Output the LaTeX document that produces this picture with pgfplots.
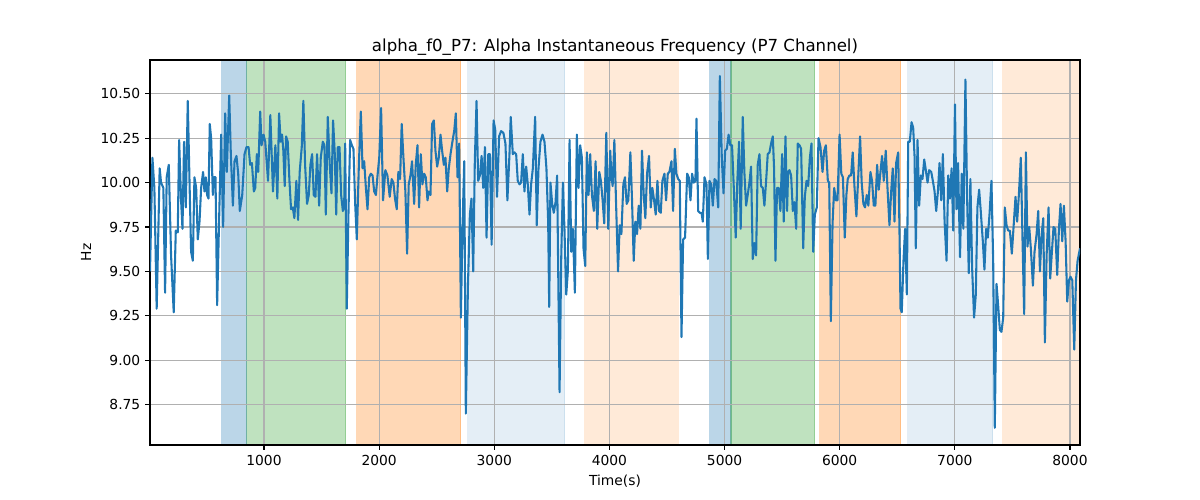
\documentclass[border=0pt]{standalone}
\usepackage{pgfplots}
\pgfplotsset{compat=1.18}
\usepackage{pgfplotstable}
\usepackage{fontspec}
\setmainfont{DejaVu Sans}
\definecolor{tabblue}{HTML}{1F77B4}
\definecolor{taborange}{HTML}{FF7F0E}
\definecolor{tabgreen}{HTML}{2CA02C}
\definecolor{gridgray}{HTML}{B0B0B0}
\pgfplotstableread{
t v
10 9.50
31 10.14
48 9.97
68 9.29
94 10.08
106 10.00
126 9.97
141 9.38
155 10.03
173 10.10
193 9.59
216 9.27
234 9.73
251 9.72
263 10.24
280 9.90
292 9.74
306 10.23
321 9.86
338 10.46
353 10.01
367 9.61
382 9.56
396 10.03
411 9.97
425 9.68
440 9.78
454 9.97
471 10.06
483 9.95
495 10.03
506 9.93
518 9.91
529 10.33
541 10.25
556 9.93
564 10.03
579 10.03
593 9.31
608 9.73
628 10.27
645 9.75
663 10.39
677 10.06
698 10.49
712 10.16
730 9.87
744 10.12
761 10.15
776 10.05
790 9.84
811 9.93
831 10.16
848 10.20
866 10.20
880 10.10
895 10.11
912 9.95
924 9.97
938 10.16
950 10.06
967 10.40
979 10.21
996 10.27
1011 10.23
1035 10.01
1055 10.38
1078 9.95
1099 10.21
1116 9.91
1131 10.39
1145 10.23
1157 10.27
1168 10.18
1180 9.98
1192 10.26
1206 10.23
1221 10.01
1235 9.85
1250 9.86
1264 9.80
1281 10.01
1296 9.79
1310 10.06
1328 10.20
1342 10.46
1357 10.10
1374 9.88
1389 9.93
1403 10.10
1418 10.16
1432 9.93
1447 9.92
1461 10.16
1479 9.87
1493 10.14
1511 10.23
1525 10.21
1537 9.82
1554 10.37
1571 10.10
1586 9.94
1600 10.35
1615 10.16
1627 9.82
1641 10.20
1656 10.20
1670 9.93
1685 9.84
1696 9.86
1705 10.22
1719 9.29
1734 9.84
1748 10.24
1763 10.21
1777 10.19
1792 9.88
1806 9.68
1824 10.10
1841 10.40
1856 10.08
1870 10.12
1885 9.97
1899 9.85
1914 10.03
1928 10.05
1943 10.04
1957 9.95
1972 9.93
1986 10.04
2001 10.14
2017 10.42
2034 9.90
2054 10.07
2072 10.04
2092 9.92
2109 10.02
2124 10.00
2138 9.91
2153 9.85
2167 10.06
2182 10.02
2196 10.33
2211 10.14
2228 9.95
2243 9.60
2257 9.99
2272 10.04
2286 10.12
2304 9.88
2318 10.10
2333 10.21
2347 9.86
2362 10.16
2376 9.99
2391 10.05
2405 10.03
2420 9.90
2431 9.95
2446 9.93
2460 10.33
2475 10.35
2489 10.18
2504 10.09
2518 10.14
2533 10.27
2547 10.18
2562 10.10
2576 10.14
2591 9.95
2605 10.08
2620 10.16
2634 10.22
2652 10.29
2666 10.39
2681 10.03
2695 10.22
2710 9.24
2724 9.74
2739 10.12
2753 8.70
2771 9.41
2788 9.82
2802 9.91
2817 9.50
2831 10.12
2846 10.46
2860 10.01
2875 10.04
2890 10.15
2904 9.97
2919 10.20
2933 9.69
2948 10.16
2962 10.16
2977 9.65
2994 10.35
3008 10.30
3024 9.92
3042 10.26
3059 10.29
3079 10.28
3097 10.22
3114 9.90
3132 10.16
3143 10.37
3161 10.16
3175 10.17
3190 10.16
3204 10.01
3219 9.99
3233 10.00
3248 10.16
3262 9.95
3277 10.09
3291 9.99
3306 9.82
3320 9.99
3335 10.08
3355 10.37
3369 9.76
3384 10.08
3401 10.23
3419 10.27
3436 10.23
3453 10.08
3468 9.78
3477 9.30
3488 10.00
3503 9.88
3517 9.83
3532 9.89
3546 10.04
3567 8.82
3581 9.56
3596 10.00
3610 9.73
3625 9.37
3639 9.50
3654 10.24
3668 9.61
3683 9.74
3700 9.38
3717 10.27
3732 9.97
3746 10.21
3761 10.14
3775 9.63
3790 9.53
3804 10.17
3819 9.93
3833 10.16
3848 9.93
3865 9.84
3880 10.12
3894 9.74
3912 10.06
3926 10.01
3941 9.90
3955 9.77
3973 10.28
3990 9.74
4007 10.18
4017 10.04
4028 9.98
4043 10.24
4057 9.90
4075 9.50
4089 9.76
4104 9.71
4121 9.99
4135 10.03
4150 9.88
4164 9.90
4182 10.17
4196 9.91
4211 9.56
4225 9.78
4240 9.71
4254 9.87
4269 9.74
4283 10.18
4298 9.93
4312 9.80
4327 10.05
4344 10.15
4359 9.86
4373 9.97
4388 9.90
4402 9.82
4417 10.01
4431 9.84
4446 9.83
4460 10.01
4478 10.05
4492 9.90
4507 10.05
4521 10.06
4539 10.12
4553 9.84
4568 10.19
4582 10.05
4597 10.02
4611 10.01
4626 9.13
4640 9.68
4657 9.69
4675 10.05
4689 10.03
4704 9.90
4718 10.05
4733 10.00
4747 10.01
4756 10.36
4771 9.84
4785 9.83
4800 9.83
4811 9.78
4826 10.03
4843 9.99
4855 9.57
4869 10.01
4884 9.99
4898 9.87
4913 10.02
4927 10.01
4945 9.86
4959 10.60
4976 10.14
4991 9.94
5005 10.18
5020 10.19
5035 10.27
5050 10.21
5065 10.21
5079 9.99
5097 9.69
5111 10.01
5126 10.23
5140 9.74
5158 10.37
5172 10.06
5187 9.87
5201 9.93
5216 10.00
5230 10.09
5245 9.57
5259 9.66
5274 9.59
5288 10.10
5303 10.16
5317 9.98
5332 9.97
5346 9.87
5361 10.01
5375 10.16
5390 10.17
5404 10.22
5419 10.26
5430 10.08
5442 9.56
5456 9.97
5471 9.97
5485 9.84
5500 10.16
5514 9.78
5529 10.26
5543 9.84
5552 10.06
5564 10.07
5578 10.04
5593 9.84
5607 9.89
5622 9.74
5636 10.22
5651 10.21
5665 10.19
5683 9.63
5697 9.92
5712 10.01
5726 9.98
5741 10.14
5755 10.22
5770 9.61
5784 9.82
5801 9.86
5816 10.25
5833 10.20
5851 10.06
5865 10.18
5880 10.21
5897 10.01
5909 10.00
5923 9.22
5938 9.77
5952 9.97
5967 9.90
5981 9.90
5999 10.27
6014 10.05
6028 10.03
6044 9.69
6058 9.93
6070 10.02
6084 10.04
6099 10.04
6113 10.17
6128 9.98
6145 9.81
6160 10.02
6177 10.26
6191 10.00
6206 9.88
6220 9.86
6235 9.93
6249 9.87
6267 10.06
6281 10.01
6296 9.87
6310 9.87
6325 10.10
6339 9.96
6354 10.06
6368 10.15
6383 10.01
6400 10.18
6415 9.97
6432 9.76
6447 9.95
6461 10.08
6476 9.78
6490 10.11
6508 10.17
6519 9.74
6528 9.29
6539 9.27
6554 9.56
6568 9.74
6583 9.37
6595 10.23
6609 10.23
6624 10.34
6638 10.31
6650 10.15
6661 9.63
6676 10.24
6690 9.87
6705 10.04
6719 10.02
6734 10.13
6748 10.07
6763 10.00
6777 10.07
6795 10.06
6809 10.01
6824 9.95
6838 9.84
6853 9.95
6867 10.11
6882 9.90
6896 10.16
6911 9.78
6928 9.56
6943 10.04
6957 9.91
6972 10.08
6986 9.73
7001 10.44
7014 9.85
7028 10.11
7045 9.58
7060 10.05
7074 9.74
7092 10.58
7106 9.93
7121 9.49
7135 10.02
7150 9.52
7167 9.24
7182 9.37
7196 9.86
7211 9.96
7225 9.84
7243 9.67
7257 9.51
7272 9.74
7286 9.69
7301 9.82
7318 10.01
7333 9.56
7347 8.62
7362 9.43
7376 9.31
7391 9.17
7405 9.16
7420 9.24
7434 9.86
7449 9.76
7463 9.73
7478 9.73
7495 9.60
7509 9.74
7527 9.92
7541 9.78
7556 9.93
7573 10.14
7588 9.67
7602 9.26
7617 10.17
7631 9.64
7646 9.75
7660 9.63
7678 9.42
7692 9.61
7710 9.71
7724 9.84
7739 9.50
7753 9.70
7768 9.80
7782 9.10
7797 9.59
7814 9.86
7828 9.46
7843 9.61
7857 9.75
7872 9.74
7889 9.48
7904 9.74
7918 9.88
7933 9.67
7947 9.87
7962 9.67
7976 9.33
7991 9.45
8005 9.47
8020 9.45
8037 9.06
8052 9.45
8066 9.56
8087 9.63
}\alphadata
\begin{document}
\begin{tikzpicture}
\path (0,0) rectangle (12in,5in);
\begin{axis}[
  set layers,
  at={(1.5in,0.55in)}, anchor=south west,
  scale only axis, width=9.3in, height=3.85in,
  xmin=10, xmax=8087, ymin=8.523, ymax=10.69,
  xtick={1000,2000,3000,4000,5000,6000,7000,8000},
  ytick={8.75,9.00,9.25,9.50,9.75,10.00,10.25,10.50},
  grid=major,
  major grid style={color=gridgray, line width=0.8pt},
  axis line style={line width=0.8pt},
  tick align=outside, major tick length=3.5pt,
  tick style={line width=0.8pt, black},
  xtick pos=left, ytick pos=left,
  ticklabel style={font=\fontsize{10}{12}\selectfont},
  /pgf/number format/assume math mode=true,
  x tick label style={/pgf/number format/1000 sep={}},
  y tick label style={/pgf/number format/.cd, fixed, fixed zerofill, precision=2},
  xlabel={Time(s)}, ylabel={Hz},
  label style={font=\fontsize{10}{12}\selectfont},
  title={alpha\_f0\_P7: Alpha Instantaneous Frequency (P7 Channel)},
  title style={font=\fontsize{12}{14}\selectfont, yshift=-6.5pt},
]
\addplot[on layer=axis background, opacity=0.3, line width=0.8pt, fill=tabblue, draw=tabblue] coordinates {(633,8.523) (633,10.69) (850,10.69) (850,8.523)} -- cycle;
\addplot[on layer=axis background, opacity=0.3, line width=0.8pt, fill=tabgreen, draw=tabgreen] coordinates {(850,8.523) (850,10.69) (1710,10.69) (1710,8.523)} -- cycle;
\addplot[on layer=axis background, opacity=0.3, line width=0.8pt, fill=taborange, draw=taborange] coordinates {(1805,8.523) (1805,10.69) (2708,10.69) (2708,8.523)} -- cycle;
\addplot[on layer=axis background, opacity=0.12, line width=0.8pt, fill=tabblue, draw=tabblue] coordinates {(2769,8.523) (2769,10.69) (3611,10.69) (3611,8.523)} -- cycle;
\addplot[on layer=axis background, opacity=0.16, line width=0.8pt, fill=taborange, draw=taborange] coordinates {(3785,8.523) (3785,10.69) (4599,10.69) (4599,8.523)} -- cycle;
\addplot[on layer=axis background, opacity=0.3, line width=0.8pt, fill=tabblue, draw=tabblue] coordinates {(4871,8.523) (4871,10.69) (5056,10.69) (5056,8.523)} -- cycle;
\addplot[on layer=axis background, opacity=0.3, line width=0.8pt, fill=tabgreen, draw=tabgreen] coordinates {(5056,8.523) (5056,10.69) (5783,10.69) (5783,8.523)} -- cycle;
\addplot[on layer=axis background, opacity=0.3, line width=0.8pt, fill=taborange, draw=taborange] coordinates {(5826,8.523) (5826,10.69) (6530,10.69) (6530,8.523)} -- cycle;
\addplot[on layer=axis background, opacity=0.12, line width=0.8pt, fill=tabblue, draw=tabblue] coordinates {(6590,8.523) (6590,10.69) (7330,10.69) (7330,8.523)} -- cycle;
\addplot[on layer=axis background, opacity=0.16, line width=0.8pt, fill=taborange, draw=taborange] coordinates {(7415,8.523) (7415,10.69) (8087,10.69) (8087,8.523)} -- cycle;
\addplot[tabblue, line width=1.5pt, line join=round, no marks] table[x=t, y=v] {\alphadata};
\end{axis}
\end{tikzpicture}
\end{document}
